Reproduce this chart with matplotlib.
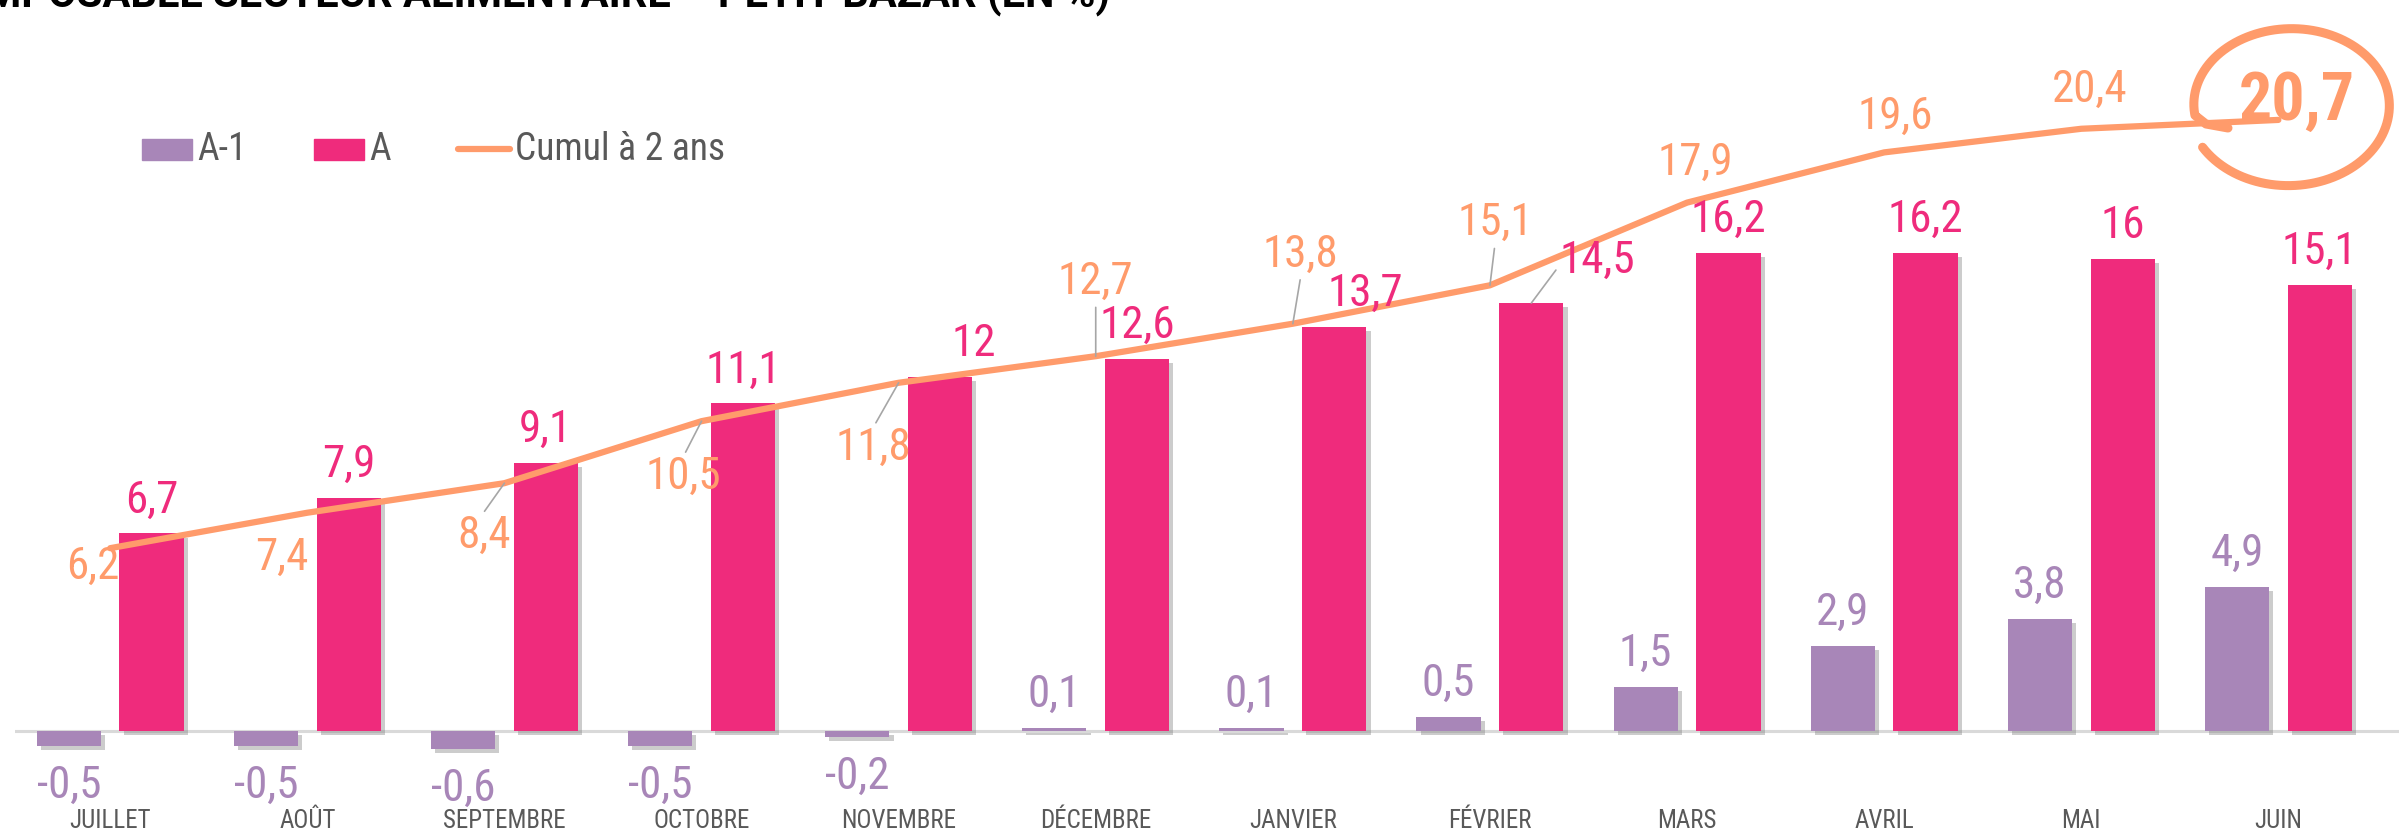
import matplotlib
matplotlib.use("Agg")
import matplotlib.pyplot as plt
import matplotlib.patheffects as pe
from matplotlib import font_manager as fm
import numpy as np

# ================= DATA =================
months = ["JUILLET", "AOÛT", "SEPTEMBRE", "OCTOBRE", "NOVEMBRE", "DÉCEMBRE",
          "JANVIER", "FÉVRIER", "MARS", "AVRIL", "MAI", "JUIN"]
a_prev = [-0.5, -0.5, -0.6, -0.5, -0.2, 0.1, 0.1, 0.5, 1.5, 2.9, 3.8, 4.9]
a_cur = [6.7, 7.9, 9.1, 11.1, 12, 12.6, 13.7, 14.5, 16.2, 16.2, 16, 15.1]
cumul = [6.2, 7.4, 8.4, 10.5, 11.8, 12.7, 13.8, 15.1, 17.9, 19.6, 20.4, 20.7]

title = "CHIFFRE D'AFFAIRES TOTAL IMPOSABLE SECTEUR ALIMENTAIRE – PETIT BAZAR (EN %)"

# ================= STYLE =================
C_PREV = "#A886B8"
C_CUR = "#EF2B7C"
C_LINE = "#FF9B6B"
C_TXT = "#595959"
C_LEAD = "#A6A6A6"


def pick_font(names):
    for n in names:
        try:
            fm.findfont(fm.FontProperties(family=n), fallback_to_default=False)
            return n
        except ValueError:
            pass
    return "DejaVu Sans"


FONT = pick_font(["Roboto Condensed", "Liberation Sans Narrow", "Roboto"])
plt.rcParams["font.family"] = [FONT, "DejaVu Sans"]

W, H = 2399, 834
fig = plt.figure(figsize=(W / 100, H / 100), dpi=100, facecolor="white")

# main axes: baseline at 103 px from bottom, 29.5 px per unit
BOT = 26
ax = fig.add_axes([15 / W, BOT / H, (W - 15) / W, (H - BOT) / H])
ax.set_xlim(-0.483, 11.612)
ax.set_ylim((BOT - 102.7) / 29.53, 24.76)
for s in ax.spines.values():
    s.set_visible(False)
ax.set_yticks([])

x = np.arange(len(months))
off, bw = 0.21, 0.326
shadow = [pe.SimplePatchShadow(offset=(3, -3), shadow_rgbFace="#808080", alpha=0.4), pe.Normal()]

b1 = ax.bar(x - off, a_prev, bw, color=C_PREV, zorder=3)
b2 = ax.bar(x + off, a_cur, bw, color=C_CUR, zorder=3)
for b in list(b1) + list(b2):
    b.set_path_effects(shadow)
ax.axhline(0, color="#D9D9D9", lw=2.2, zorder=2)
ax.plot(x, cumul, color=C_LINE, lw=4.5, zorder=4, solid_capstyle="round")

ax.set_xticks(x)
ax.set_xticklabels(months, fontsize=18, color=C_TXT)
ax.tick_params(axis="x", length=0, pad=0.5)


def fmt(v):
    return f"{v:g}".replace(".", ",")


LAB = 32.4      # pt
HALF = 16       # px, half digit height


def label(xv, yv, v, color, dx, dy, size=LAB, half=HALF, weight="normal", rel=None):
    kw = {}
    if rel is not None:
        kw["arrowprops"] = dict(arrowstyle="-", color=C_LEAD, lw=1.2,
                                relpos=rel, shrinkA=1, shrinkB=0)
    ax.annotate(fmt(v), xy=(xv, yv), xytext=(dx, dy - half), textcoords="offset pixels",
                ha="center", va="baseline", fontsize=size, color=color,
                fontweight=weight, zorder=6, annotation_clip=False, **kw)


# A-1 labels
for i, v in enumerate(a_prev):
    label(x[i] - off, v, v, C_PREV, 0, 37 if v > 0 else -36)

# A labels
cur_off = {4: (34, 37), 6: (31, 37), 7: (66, 46)}
for i, v in enumerate(a_cur):
    dx, dy = cur_off.get(i, (0, 37))
    label(x[i] + off, v, v, C_CUR, dx, dy, rel=(0, 0.4) if i == 7 else None)

# cumul labels
line_off = [(-17, -15), (-25, -41), (-20, -49), (-18, -52), (-25, -61), (0, 78),
            (8, 73), (5, 66), (8, 44), (11, 40), (8, 43)]
line_rel = {2: (0.45, 1), 3: (0.5, 1), 4: (0.5, 1), 5: (0.5, 0), 6: (0.5, 0), 7: (0.5, 0)}
for i, (dx, dy) in enumerate(line_off):
    label(x[i], cumul[i], cumul[i], C_LINE, dx, dy, rel=line_rel.get(i))
label(x[-1], cumul[-1], cumul[-1], C_LINE, 18, 23, size=47.5, half=23.5, weight="bold")

# ================= OVERLAY (title, legend, hand circle) =================
ov = fig.add_axes([0, 0, 1, 1])
ov.set_xlim(0, W)
ov.set_ylim(H, 0)
ov.axis("off")

ov.text(1110, 7, title, ha="right", va="baseline", fontsize=30, fontweight="bold",
        color="black", family=["Roboto", "DejaVu Sans"])

LEG = 27
ov.add_patch(plt.Rectangle((142, 139), 50, 21, color=C_PREV))
ov.text(197, 160, "A-1", fontsize=LEG, color=C_TXT, va="baseline")
ov.add_patch(plt.Rectangle((314, 139), 50, 21, color=C_CUR))
ov.text(369, 160, "A", fontsize=LEG, color=C_TXT, va="baseline")
ov.plot([458, 510], [149, 149], color=C_LINE, lw=4.5, solid_capstyle="round")
ov.text(515, 160, "Cumul à 2 ans", fontsize=LEG, color=C_TXT, va="baseline")

t = np.radians(np.linspace(211, 548, 240))
rx = np.linspace(102, 96, t.size)
ry = np.linspace(82, 74, t.size)
cx_, cy_ = 2290, 105
xs = np.r_[cx_ + rx * np.cos(t), 2206, 2228]
ys = np.r_[cy_ - ry * np.sin(t), 124, 128]
ov.plot(xs, ys, color=C_LINE, lw=6.5, solid_capstyle="round", solid_joinstyle="round")

fig.savefig("out.png", dpi=100, facecolor="white")
